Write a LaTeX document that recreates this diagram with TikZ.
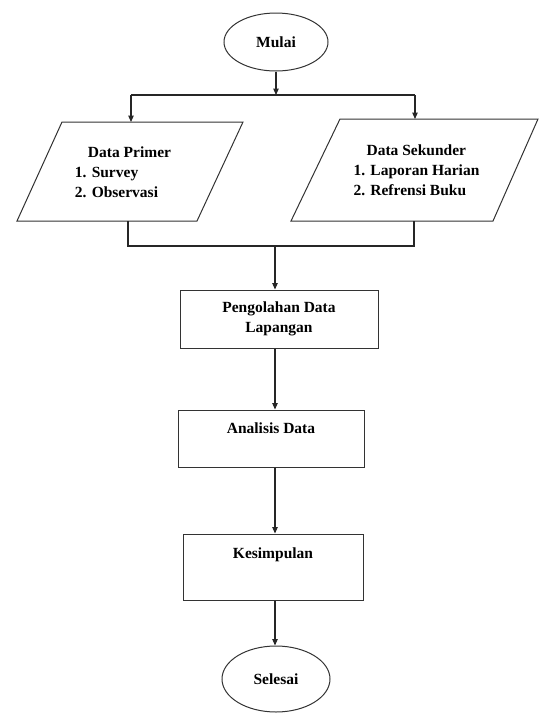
\documentclass[tikz,border=0pt]{standalone}
\usepackage{fontspec}
\setmainfont{Liberation Serif}
\usetikzlibrary{arrows.meta,shapes.geometric}

\tikzset{
  flowfont/.style={font=\bfseries\fontsize{15.5}{20}\selectfont},
  terminal/.style={ellipse, draw=black!80, line width=1pt, inner sep=0pt, flowfont},
  iotext/.style={inner sep=0pt, flowfont},
  ioshape/.style={draw=black!80, line width=1pt, line join=miter},
  procbox/.style={rectangle, draw=black!80, line width=1pt, inner sep=0pt, align=center, flowfont},
  flowline/.style={black!85, line width=1.2pt},
  flowarrow/.style={flowline, -{Triangle[length=6.5pt,width=5.5pt]}}
}

\begin{document}
\begin{tikzpicture}[x=1pt, y={(0,-1pt)}]

  % Page frame
  \useasboundingbox (0,0) rectangle (541,713);

  % ==================== NODES ====================
  \node[terminal, minimum width=104, minimum height=58] (mulai) at (276,42) {Mulai};

  % Data Primer (parallelogram)
  \coordinate (primtl) at (62,122);
  \coordinate (primtr) at (243,122);
  \coordinate (primbr) at (197,221);
  \coordinate (primbl) at (17,221);
  \draw[ioshape] (primtl) -- (primtr) -- (primbr) -- (primbl) -- cycle;
  \node[iotext] (primer) at (123,173)
    {\begin{tabular}{@{}l@{}}\hspace{13pt}Data Primer\\1. Survey\\2. Observasi\end{tabular}};

  % Data Sekunder (parallelogram)
  \coordinate (sektl) at (340,119);
  \coordinate (sektr) at (538,119);
  \coordinate (sekbr) at (493,221);
  \coordinate (sekbl) at (291,221);
  \draw[ioshape] (sektl) -- (sektr) -- (sekbr) -- (sekbl) -- cycle;
  \node[iotext] (sekunder) at (416.5,171)
    {\begin{tabular}{@{}l@{}}\hspace{13pt}Data Sekunder\\1. Laporan Harian\\2. Refrensi Buku\end{tabular}};

  \node[procbox, minimum width=198, minimum height=58] (olah) at (279,319) {Pengolahan Data\\Lapangan};
  \node[procbox, minimum width=186, minimum height=57] (analisis) at (271,438.5) {Analisis Data\\~};
  \node[procbox, minimum width=180, minimum height=66] (simpul) at (273,567) {Kesimpulan\\[8pt]~};

  \node[terminal, minimum width=108, minimum height=66] (selesai) at (276,679) {Selesai};

  % ==================== CONNECTORS ====================
  % Split to both data sources
  \coordinate (splitl) at (131,95);
  \coordinate (splitr) at (415,95);
  \draw[flowarrow] (mulai.south) -- (mulai.south |- splitl);
  \draw[flowline] (splitl) -- (splitr);
  \draw[flowarrow] (splitl) -- (splitl |- primtl);
  \draw[flowarrow] (splitr) -- (splitr |- sektl);

  % Join of both data sources
  \coordinate (joinl) at (128,246);
  \coordinate (joinr) at (414,246);
  \coordinate (joinm) at (275,246);
  \draw[flowline] (joinl |- primbl) -- (joinl) -- (joinr) -- (joinr |- sekbl);
  \draw[flowarrow] (joinm) -- (joinm |- olah.north);

  % Main column
  \coordinate (axis) at (275,0);
  \draw[flowarrow] (axis |- olah.south) -- (axis |- analisis.north);
  \draw[flowarrow] (axis |- analisis.south) -- (axis |- simpul.north);
  \draw[flowarrow] (axis |- simpul.south) -- (axis |- selesai.north);

\end{tikzpicture}
\end{document}
